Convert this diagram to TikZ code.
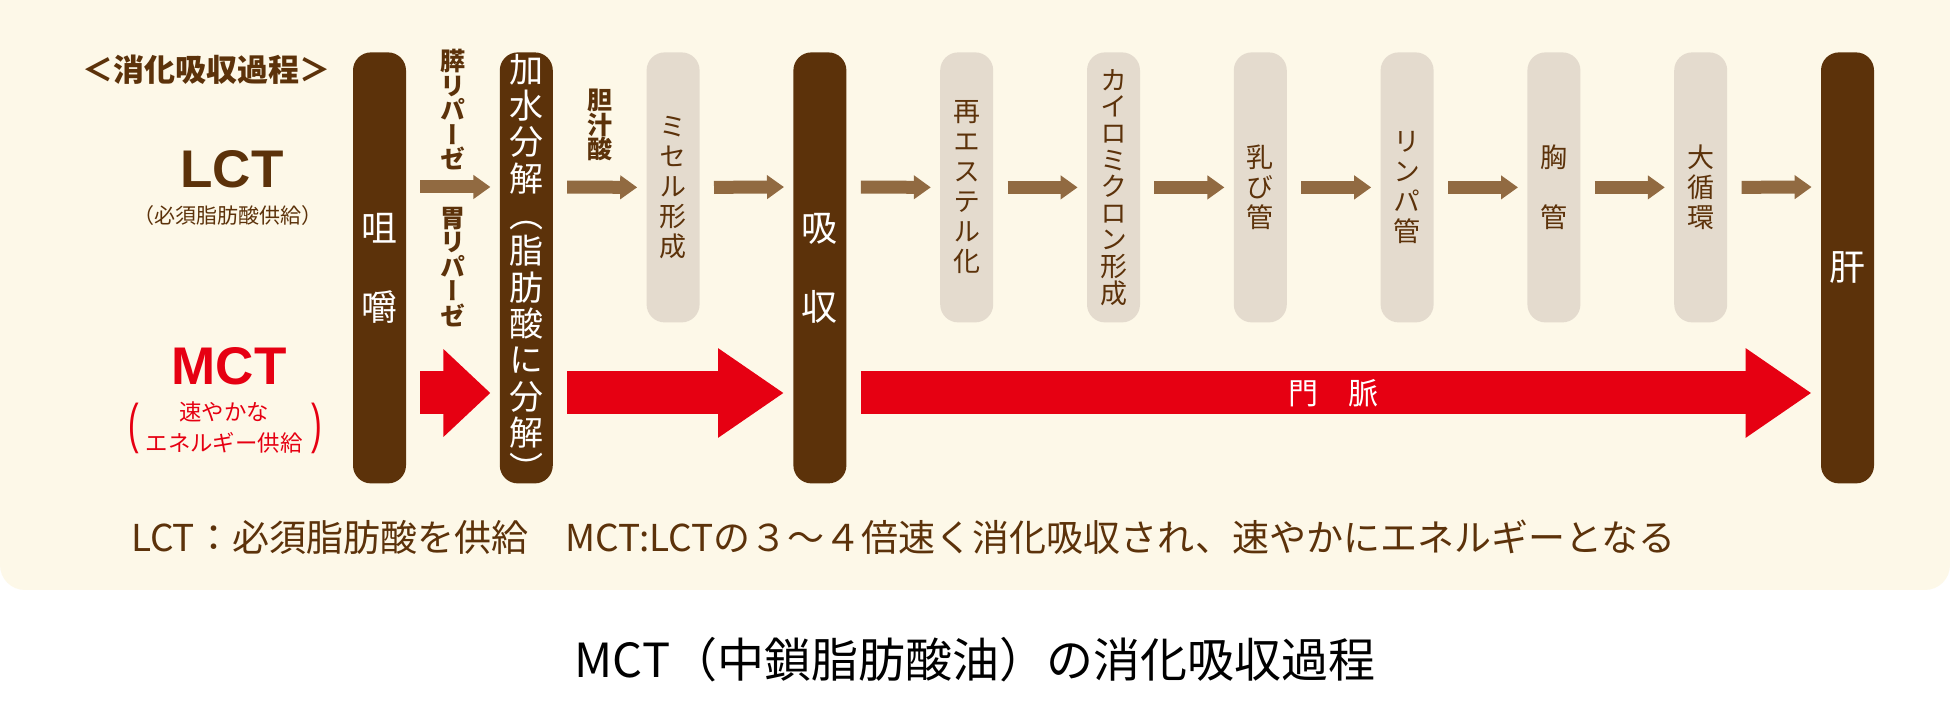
\documentclass[tikz,border=0pt]{standalone}
\usepackage{fontspec}
\usepackage{graphicx}
\setmainfont{Noto Sans CJK JP}
\newfontfamily\vjp{Noto Sans CJK JP}[RawFeature=+vert]
\newfontfamily\latin{Liberation Sans}
\usetikzlibrary{arrows.meta, positioning}
\definecolor{cream}{RGB}{253,248,232}
\definecolor{choco}{RGB}{92,50,10}
\definecolor{sand}{RGB}{228,219,206}
\definecolor{mocha}{RGB}{145,106,65}
\definecolor{scarlet}{RGB}{230,0,18}
\tikzset{
  bard/.style ={rectangle, rounded corners=9pt, fill=choco, text=white, align=center,
                minimum width=26.5pt, minimum height=215.5pt, inner sep=0pt,
                font=\fontsize{18pt}{39.5pt}\selectfont},
  barl/.style ={bard, fill=sand, text=choco, minimum height=135pt,
                font=\vjp\fontsize{13.5pt}{15pt}\selectfont},
  vlbl/.style ={align=center, text=choco, inner sep=0pt,
                font=\vjp\bfseries\fontsize{12.5pt}{12.25pt}\selectfont},
  ar/.style   ={-{Triangle[width=11.5pt,length=8.5pt]}, draw=mocha, line width=6.5pt,
                shorten <=7pt, shorten >=4.5pt},
  arm/.style  ={-{Triangle[width=42.5pt,length=33pt]}, draw=scarlet, line width=21.5pt,
                shorten <=7pt, shorten >=4.5pt},
  paren/.style={text=scarlet, inner sep=0pt, font=\latin\fontsize{16pt}{16pt}\selectfont},
}

\begin{document}
\begin{tikzpicture}[x=0.5pt, y=-0.5pt, node distance=46.5pt]
\useasboundingbox (0,0) rectangle (1950,715);
\clip (0,0) rectangle (1950,715);
\fill[white] (0,0) rectangle (1950,715);
\fill[cream, rounded corners=12.5pt] (0,-40) rectangle (1950,590);

\coordinate (lct) at (0,187);
\coordinate (mct) at (0,393);

% bars
\node[bard, anchor=north] (chew) at (379.5,52) {咀\\嚼};
\node[bard, right=of chew.north east, anchor=north west,
      font=\vjp\fontsize{17pt}{18.15pt}\selectfont] (hyd) {加\\水\\分\\解\\（\\脂\\肪\\酸\\に\\分\\解\\）};
\node[barl, right=of hyd.north east, anchor=north west] (mic) {ミ\\セ\\ル\\形\\成};
\node[bard, right=of mic.north east, anchor=north west] (abs) {吸\\収};
\node[barl, right=of abs.north east, anchor=north west] (ester) {再\\エ\\ス\\テ\\ル\\化};
\node[barl, right=of ester.north east, anchor=north west,
      font=\vjp\fontsize{13.5pt}{13.3pt}\selectfont] (chylo) {カ\\イ\\ロ\\ミ\\ク\\ロ\\ン\\形\\成};
\node[barl, right=of chylo.north east, anchor=north west] (lac) {乳\\び\\管};
\node[barl, right=of lac.north east, anchor=north west] (lym) {リ\\ン\\パ\\管};
\node[barl, right=of lym.north east, anchor=north west] (thor) {胸\\　\\管};
\node[barl, right=of thor.north east, anchor=north west] (circ) {大\\循\\環};
\node[bard, right=of circ.north east, anchor=north west] (liver) {肝};

% enzyme labels
\node[vlbl] (panc) at (453,110) {膵\\リ\\パ\\ー\\ゼ};
\node[vlbl] (gast) at (453,267) {胃\\リ\\パ\\ー\\ゼ};
\node[vlbl] (bile) at (600,125) {胆\\汁\\酸};

% LCT route
\draw[ar] (chew.east |- lct) -- (hyd.west |- lct);
\draw[ar] (hyd.east |- lct) -- (mic.west);
\draw[ar] (mic.east) -- (abs.west |- lct);
\draw[ar] (abs.east |- lct) -- (ester.west);
\draw[ar] (ester.east) -- (chylo.west);
\draw[ar] (chylo.east) -- (lac.west);
\draw[ar] (lac.east) -- (lym.west);
\draw[ar] (lym.east) -- (thor.west);
\draw[ar] (thor.east) -- (circ.west);
\draw[ar] (circ.east) -- (liver.west |- lct);

% MCT route
\draw[arm, -{Triangle[width=42.5pt,length=23.5pt]}] (chew.east |- mct) -- (hyd.west |- mct);
\draw[arm] (hyd.east |- mct) -- (abs.west |- mct);
\draw[arm] (abs.east |- mct) -- node[text=white, font=\fontsize{15pt}{15pt}\selectfont] (portal) {門　脈} (liver.west |- mct);

% left labels
\node[text=choco, font=\bfseries\fontsize{15.5pt}{15.5pt}\selectfont] (head) at (207,70) {＜消化吸収過程＞};
\node[text=choco, font=\latin\bfseries\fontsize{26.5pt}{26.5pt}\selectfont] (lcth) at (232,169) {LCT};
\node[text=choco, font=\fontsize{10.5pt}{10.5pt}\selectfont] (lcts) at (228,216) {（必須脂肪酸供給）};
\node[text=scarlet, font=\latin\bfseries\fontsize{26.5pt}{26.5pt}\selectfont] (mcth) at (229,366) {MCT};
\node[text=scarlet, align=center, font=\fontsize{11.2pt}{15.5pt}\selectfont] (mcts) at (224,428) {速やかな\\エネルギー供給};
\node[paren] (mcto) at (134,428) {\scalebox{1}[1.7]{(}};
\node[paren] (mctc) at (317,428) {\scalebox{1}[1.7]{)}};

% notes
\node[text=choco, anchor=west, font=\fontsize{18.5pt}{18.5pt}\selectfont] (note) at (124,537) {LCT：必須脂肪酸を供給　MCT:LCTの３～４倍速く消化吸収され、速やかにエネルギーとなる};
\node[text=black, font=\fontsize{23.5pt}{23.5pt}\selectfont] (cap) at (975,660) {MCT（中鎖脂肪酸油）の消化吸収過程};
\end{tikzpicture}
\end{document}
